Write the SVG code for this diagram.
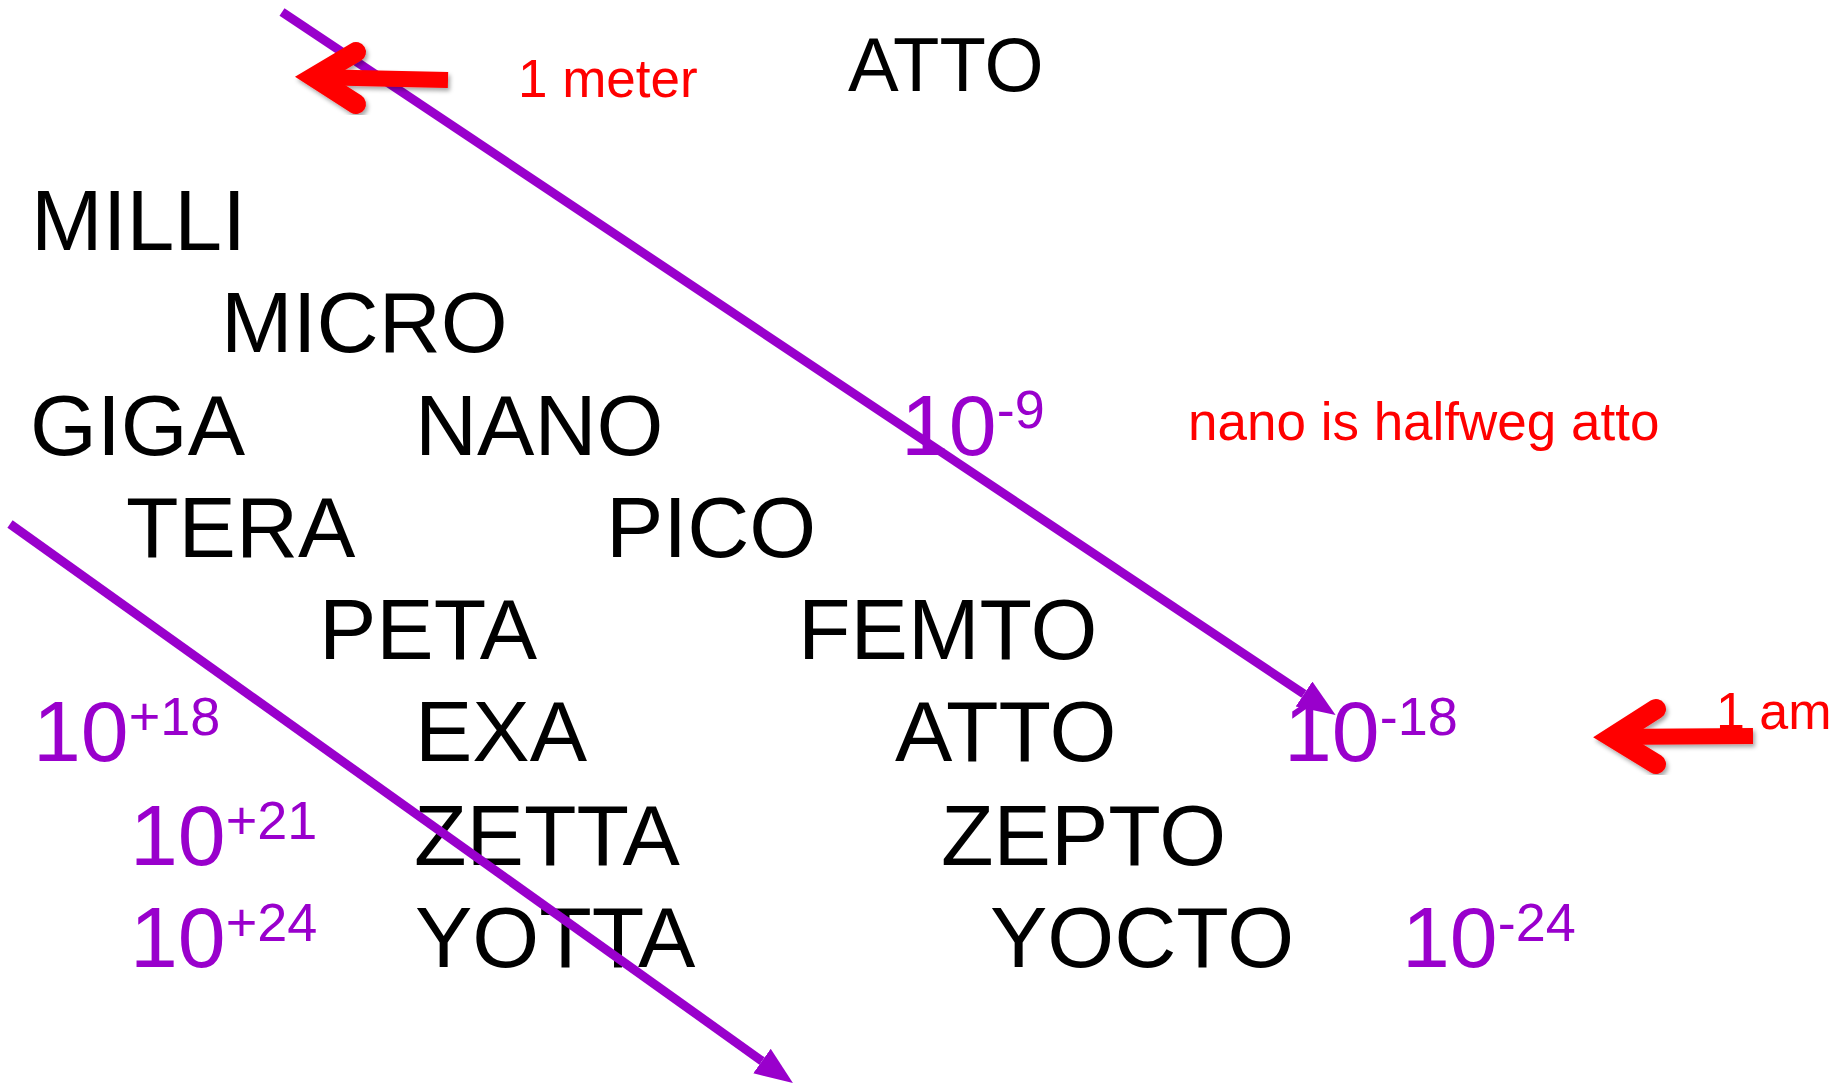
<svg xmlns="http://www.w3.org/2000/svg" width="1842" height="1084" viewBox="0 0 1842 1084">
<style>
.w{font-family:"Liberation Sans",Arial,sans-serif;font-size:86px;fill:#000}
.p{font-family:"Liberation Sans",Arial,sans-serif;font-size:86px;fill:#9900CC}
.sup{font-size:54px}
.r{font-family:"Liberation Sans",Arial,sans-serif;font-size:52px;fill:#FF0000}
.pl{stroke:#9900CC;stroke-width:9;fill:none}
.ra{stroke:#FF0000;fill:none;filter:url(#sh)}
.shaft{stroke-width:16}
.head{stroke-width:20;stroke-linecap:round;stroke-linejoin:miter}
</style>
<defs>
<marker id="ph" markerUnits="userSpaceOnUse" markerWidth="40" markerHeight="32" refX="0" refY="15" orient="auto">
<path d="M0,0 L38,15 L0,30 z" fill="#9900CC"/>
</marker>
<filter id="sh" x="-20%" y="-20%" width="140%" height="140%">
<feDropShadow dx="2" dy="3" stdDeviation="2" flood-color="#000" flood-opacity="0.35"/>
</filter>
</defs>
<rect width="1842" height="1084" fill="#fff"/>
<g id="words">
<text id="atto-top" class="w" x="848" y="91" style="font-size:76px">ATTO</text>
<text id="milli" class="w" x="31" y="250">MILLI</text>
<text id="micro" class="w" x="221" y="352">MICRO</text>
<text id="giga" class="w" x="30" y="455">GIGA</text>
<text id="nano" class="w" x="415" y="455">NANO</text>
<text id="tera" class="w" x="126" y="557">TERA</text>
<text id="pico" class="w" x="606" y="557">PICO</text>
<text id="peta" class="w" x="319" y="659">PETA</text>
<text id="femto" class="w" x="798" y="659">FEMTO</text>
<text id="exa" class="w" x="415" y="761">EXA</text>
<text id="atto" class="w" x="895" y="761">ATTO</text>
<text id="zetta" class="w" x="414" y="865">ZETTA</text>
<text id="zepto" class="w" x="941" y="865">ZEPTO</text>
<text id="yotta" class="w" x="415" y="967">YOTTA</text>
<text id="yocto" class="w" x="990" y="967">YOCTO</text>
</g>
<g id="powers">
<text id="p18" class="p" x="33" y="761">10<tspan class="sup" dy="-26">+18</tspan></text>
<text id="p21" class="p" x="130" y="865">10<tspan class="sup" dy="-26">+21</tspan></text>
<text id="p24" class="p" x="130" y="967">10<tspan class="sup" dy="-26">+24</tspan></text>
<text id="m9" class="p" x="901" y="455">10<tspan class="sup" dy="-27">-9</tspan></text>
<text id="m18" class="p" x="1284" y="761">10<tspan class="sup" dy="-26">-18</tspan></text>
<text id="m24" class="p" x="1402" y="967">10<tspan class="sup" dy="-26">-24</tspan></text>
</g>
<g id="notes">
<text id="meter" class="r" x="518" y="97" style="font-size:53px">1 meter</text>
<text id="halfweg" class="r" x="1188" y="440" style="font-size:53px">nano is halfweg atto</text>
<text id="am" class="r" x="1716" y="729">1 am</text>
</g>
<g id="connectors">
<line class="pl" x1="282" y1="12" x2="1304" y2="694" marker-end="url(#ph)"/>
<line class="pl" x1="10" y1="524" x2="762" y2="1061" marker-end="url(#ph)"/>
<g id="arrow-meter" class="ra">
<path class="shaft" d="M448,80 L310,77"/>
<path class="head" d="M356,52 L314,77 L356,104"/>
</g>
<g id="arrow-am" class="ra">
<path class="shaft" d="M1753,736 L1606,737"/>
<path class="head" d="M1656,709 L1612,737 L1656,764"/>
</g>
</g>
</svg>
